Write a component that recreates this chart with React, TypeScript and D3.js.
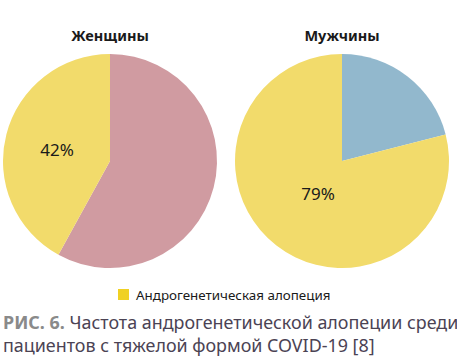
import * as d3 from "d3"

type Slice = { name: string; value: number; color: string }

const WIDTH = 457
const HEIGHT = 362
const RADIUS = 107

const PIE_TITLES = ["Женщины", "Мужчины"]
const WOMEN_VALUES = [58, 42]
const MEN_VALUES = [21, 79]
const WOMEN_COLORS = ["#d09ba1", "#f2db6b"]
const MEN_COLORS = ["#92b8cd", "#f2db6b"]
const LABELLED_INDEX = 1
const LEGEND_LABEL = "Андрогенетическая алопеция"
const CAPTION_PREFIX = "РИС. 6."
const CAPTION_LINES = [
  " Частота андрогенетической алопеции среди",
  "пациентов с тяжелой формой COVID-19 [8]",
]

const FONT = "'Noto Sans', 'Open Sans', sans-serif"

const pies = [
  {
    title: PIE_TITLES[0],
    cx: 110,
    slices: WOMEN_VALUES.map((v, i) => ({ name: String(i), value: v, color: WOMEN_COLORS[i] })),
    labelPos: [57, 149],
  },
  {
    title: PIE_TITLES[1],
    cx: 342,
    slices: MEN_VALUES.map((v, i) => ({ name: String(i), value: v, color: MEN_COLORS[i] })),
    labelPos: [318, 193],
  },
]

export default function App() {
  const pie = d3
    .pie<Slice>()
    .value((d) => d.value)
    .sort(null)
  const arc = d3.arc<d3.PieArcDatum<Slice>>().innerRadius(0).outerRadius(RADIUS)
  const cy = 161

  return (
    <svg
      width={WIDTH}
      height={HEIGHT}
      viewBox={`0 0 ${WIDTH} ${HEIGHT}`}
      style={{ position: "absolute", left: 0, top: 0, background: "white" }}
    >
      {pies.map((p) => {
        const arcs = pie(p.slices)
        return (
          <g key={p.title}>
            <text
              x={p.cx}
              y={41}
              textAnchor="middle"
              fontFamily={FONT}
              fontSize={14.5}
              fontWeight={700}
              fill="#1a1a1a"
            >
              {p.title}
            </text>
            <g transform={`translate(${p.cx}, ${cy})`}>
              {arcs.map((a) => (
                <path key={a.data.name} d={arc(a) ?? ""} fill={a.data.color} />
              ))}
            </g>
            <text
              x={p.labelPos[0]}
              y={p.labelPos[1]}
              textAnchor="middle"
              dominantBaseline="central"
              fontFamily={FONT}
              fontSize={17}
              fill="#1a1a1a"
            >
              {`${arcs[LABELLED_INDEX].data.value}%`}
            </text>
          </g>
        )
      })}
      <rect x={118} y={289} width={11} height={11} fill="#f0d123" />
      <text x={136} y={300} fontFamily={FONT} fontSize={13.4} fill="#1a1a1a">
        {LEGEND_LABEL}
      </text>
      <text x={3} y={329} fontFamily={FONT} fontSize={17.9} fill="#4b4354">
        <tspan fontWeight={700} fill="#8a8a8a">
          {CAPTION_PREFIX}
        </tspan>
        <tspan>{CAPTION_LINES[0]}</tspan>
      </text>
      <text x={3} y={352} fontFamily={FONT} fontSize={17.9} fill="#4b4354">
        {CAPTION_LINES[1]}
      </text>
    </svg>
  )
}
